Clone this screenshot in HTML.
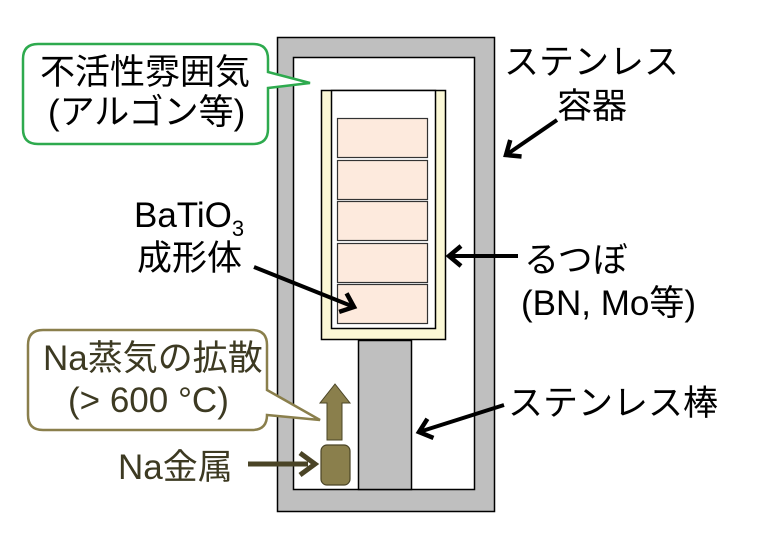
<!DOCTYPE html>
<html><head><meta charset="utf-8"><style>
html,body{margin:0;padding:0;background:#fff;}
svg{display:block;}
text{font-family:"Liberation Sans","Noto Sans CJK JP",sans-serif;font-size:35px;fill:#000;}
</style></head><body>
<svg width="758" height="547" viewBox="0 0 758 547">
<defs>
<marker id="ah" markerWidth="20" markerHeight="24" refX="14" refY="12" orient="auto" markerUnits="userSpaceOnUse" viewBox="0 0 20 24"><path d="M2,2 L14,12 L2,22" fill="none" stroke="#000" stroke-width="4.5"/></marker>
</defs>
<rect x="277.5" y="37.5" width="217" height="474" fill="#bfbfbf" stroke="#000" stroke-width="1.5"/>
<rect x="293.5" y="57.5" width="181" height="432" fill="#fff" stroke="#000" stroke-width="1.5"/>
<rect x="321.5" y="90.5" width="124" height="249" fill="#fbf8d6" stroke="#000" stroke-width="1.5"/>
<rect x="331.5" y="90.5" width="104" height="238" fill="#fff" stroke="#000" stroke-width="1.5"/>
<g fill="#fdeadd" stroke="#333" stroke-width="1.2">
<rect x="337.5" y="118.5" width="90" height="39"/>
<rect x="337.5" y="160.5" width="90" height="39"/>
<rect x="337.5" y="201.5" width="90" height="39"/>
<rect x="337.5" y="243.5" width="90" height="39"/>
<rect x="337.5" y="284.5" width="90" height="39"/>
</g>
<rect x="358.5" y="340.5" width="53" height="149" fill="#bfbfbf" stroke="#000" stroke-width="1.5"/>
<rect x="321" y="445" width="29" height="40" rx="6" fill="#8a7f4c" stroke="#4a4426" stroke-width="1.2"/>
<path d="M327,440 L342,440 L342,403 L350,403 L335,384 L320,403 L327,403 Z" fill="#8a7f4c" stroke="#4a4426" stroke-width="1"/>
<line x1="248" y1="464" x2="308" y2="464" stroke="#4a4426" stroke-width="5"/>
<path d="M300,453 L315,464 L300,475" fill="none" stroke="#4a4426" stroke-width="5"/>
<path d="M38,44 L253,44 Q268,44 268,59 L268,72 L310,83 L268,88 L268,129 Q268,144 253,144 L38,144 Q23,144 23,129 L23,59 Q23,44 38,44 Z" fill="#fff" stroke="#2eaa4e" stroke-width="2.5"/>
<text x="40" y="84">不活性雰囲気</text>
<text x="48" y="124">(アルゴン等)</text>
<path d="M43,330 L252,330 Q267,330 267,345 L267,390 L320,420 L267,415 L267,415 Q267,430 252,430 L43,430 Q28,430 28,415 L28,345 Q28,330 43,330 Z" fill="#fff" stroke="#8a7f4c" stroke-width="2.5"/>
<text x="43" y="370" style="fill:#3d3a22">Na蒸気の拡散</text>
<text x="68" y="412" style="fill:#3d3a22">(&gt; 600 °C)</text>
<text x="118" y="479" style="fill:#3d3a22">Na金属</text>
<text x="134" y="227">BaTiO<tspan font-size="22" dy="9">3</tspan></text>
<text x="137" y="270">成形体</text>
<line x1="254" y1="267" x2="354" y2="307" stroke="#000" stroke-width="4" marker-end="url(#ah)"/>
<text x="504" y="74">ステンレス</text>
<text x="557" y="118">容器</text>
<line x1="557" y1="120" x2="506" y2="155" stroke="#000" stroke-width="4" marker-end="url(#ah)"/>
<text x="524" y="272">るつぼ</text>
<line x1="518" y1="256" x2="449" y2="256" stroke="#000" stroke-width="4" marker-end="url(#ah)"/>
<text x="521" y="315">(BN, Mo等)</text>
<text x="508" y="415">ステンレス棒</text>
<line x1="504" y1="405" x2="419" y2="432" stroke="#000" stroke-width="4" marker-end="url(#ah)"/>
</svg>
</body></html>
